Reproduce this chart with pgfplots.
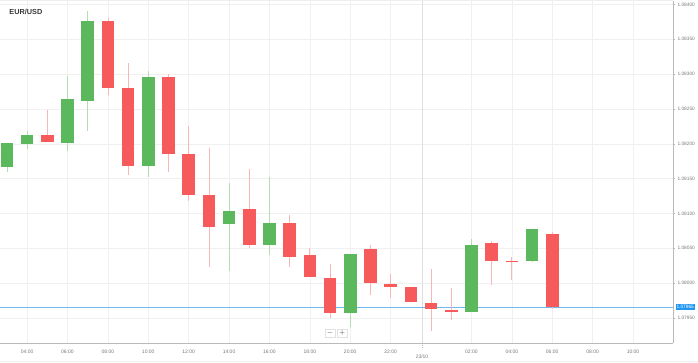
\documentclass[border=0pt]{standalone}
\usepackage{fontspec}
\setmainfont{Liberation Sans}
\usepackage{pgfplots}
\usepackage{pgfplotstable}
\pgfplotsset{compat=1.18}
\definecolor{upfill}{RGB}{92,184,92}
\definecolor{upwick}{RGB}{178,222,178}
\definecolor{dnfill}{RGB}{246,90,90}
\definecolor{dnwick}{RGB}{250,182,182}
\definecolor{gridc}{RGB}{240,240,240}
\definecolor{sepc}{RGB}{222,222,222}
\definecolor{axisc}{RGB}{185,185,185}
\definecolor{labc}{RGB}{120,120,120}
\definecolor{pricec}{RGB}{110,185,240}
\definecolor{priceb}{RGB}{33,150,243}
% hour, low, body bottom, body top, high  (rising candles)
\pgfplotstableread{
x  low     bot     top     high
3  1.08160 1.08166 1.08201 1.08201
4  1.08193 1.08200 1.08213 1.08219
6  1.08190 1.08201 1.08264 1.08298
7  1.08218 1.08262 1.08376 1.08390
10 1.08152 1.08168 1.08296 1.08304
14 1.08018 1.08085 1.08104 1.08143
16 1.08041 1.08054 1.08086 1.08153
20 1.07937 1.07957 1.08042 1.08042
26 1.07959 1.07959 1.08055 1.08063
29 1.08030 1.08032 1.08077 1.08077
}\upc
% falling candles
\pgfplotstableread{
x  low     bot     top     high
5  1.08203 1.08203 1.08212 1.08248
8  1.08270 1.08280 1.08376 1.08380
9  1.08155 1.08168 1.08280 1.08316
11 1.08159 1.08185 1.08296 1.08300
12 1.08118 1.08127 1.08185 1.08226
13 1.08023 1.08081 1.08126 1.08194
15 1.08050 1.08055 1.08106 1.08164
17 1.08023 1.08038 1.08086 1.08098
18 1.08009 1.08009 1.08040 1.08050
19 1.07950 1.07957 1.08007 1.08028
21 1.07983 1.08000 1.08049 1.08055
22 1.07978 1.07994 1.07999 1.08013
23 1.07973 1.07973 1.07994 1.07994
24 1.07931 1.07963 1.07972 1.08020
25 1.07947 1.07959 1.07962 1.07993
27 1.07997 1.08032 1.08057 1.08061
28 1.08005 1.08030 1.08032 1.08038
30 1.07963 1.07965 1.08071 1.08073
}\dnc
\begin{document}
\begin{tikzpicture}
\begin{axis}[
  at={(0,0)}, anchor=south west,
  scale only axis, width=673pt, height=342pt,
  xmin=2.66, xmax=35.98, ymin=1.07914, ymax=1.08405,
  axis x line*=bottom, axis y line*=right,
  axis line style={draw=axisc, line width=0.8pt},
  xtick={4,6,8,10,12,14,16,18,20,22,26,28,30,32,34},
  xticklabels={04:00,06:00,08:00,10:00,12:00,14:00,16:00,18:00,20:00,22:00,02:00,04:00,06:00,08:00,10:00},
  ytick={1.0795,1.08,1.0805,1.081,1.0815,1.082,1.0825,1.083,1.0835,1.084},
  yticklabels={1.07950,1.08000,1.08050,1.08100,1.08150,1.08200,1.08250,1.08300,1.08350,1.08400},
  scaled y ticks=false,
  xtick style={draw=none},
  ytick style={draw=axisc, line width=0.5pt},
  tick align=outside, major tick length=2pt,
  grid=major, grid style={draw=gridc, line width=0.5pt},
  xticklabel style={font=\fontsize{5}{6}\selectfont, text=labc, yshift=-1.5pt},
  yticklabel style={font=\fontsize{4.8}{6}\selectfont, text=labc, anchor=west, xshift=-1pt},
  clip=true,
]
% day separator (vertical) and current price (horizontal), drawn as error bars
\addplot[draw=none, mark=none, forget plot, error bars/.cd, y dir=plus, y explicit, error mark=none,
  error bar style={draw=sepc, line width=0.5pt}]
  coordinates {(23.55,1.07914) +- (0,0.00491)};
\addplot[draw=none, mark=none, forget plot, error bars/.cd, x dir=plus, x explicit, error mark=none,
  error bar style={draw=pricec, line width=0.8pt}]
  coordinates {(2.66,1.07965) +- (33.32,0)};
% wicks
\addplot[draw=none, mark=none, forget plot, error bars/.cd, y dir=plus, y explicit, error mark=none,
  error bar style={draw=upwick, line width=0.7pt}]
  table[x=x, y=low, y error plus expr=\thisrow{high}-\thisrow{low}] {\upc};
\addplot[draw=none, mark=none, forget plot, error bars/.cd, y dir=plus, y explicit, error mark=none,
  error bar style={draw=dnwick, line width=0.7pt}]
  table[x=x, y=low, y error plus expr=\thisrow{high}-\thisrow{low}] {\dnc};
% bodies
\addplot[draw=none, mark=none, forget plot, error bars/.cd, y dir=plus, y explicit, error mark=none,
  error bar style={draw=upfill, line width=12.6pt, line cap=butt}]
  table[x=x, y=bot, y error plus expr=\thisrow{top}-\thisrow{bot}] {\upc};
\addplot[draw=none, mark=none, forget plot, error bars/.cd, y dir=plus, y explicit, error mark=none,
  error bar style={draw=dnfill, line width=12.6pt, line cap=butt}]
  table[x=x, y=bot, y error plus expr=\thisrow{top}-\thisrow{bot}] {\dnc};
\node[anchor=west, inner sep=0pt, font=\bfseries\fontsize{7.3}{8}\selectfont, text={rgb,255:red,55;green,55;blue,55}] at (rel axis cs:0.0138,0.969) {EUR/USD};
\node[draw={rgb,255:red,225;green,225;blue,225}, fill=white, inner sep=0pt, minimum width=10pt, minimum height=8pt, font=\fontsize{7}{7}\selectfont, text={rgb,255:red,60;green,60;blue,60}] at (axis cs:19.0,1.079284) {$-$};
\node[draw={rgb,255:red,225;green,225;blue,225}, fill=white, inner sep=0pt, minimum width=10pt, minimum height=8pt, font=\fontsize{7}{7}\selectfont, text={rgb,255:red,60;green,60;blue,60}] at (axis cs:19.6,1.079284) {$+$};
\end{axis}
\draw[draw=axisc, line width=0.5pt, dash pattern=on 1pt off 1pt] (422pt,0) -- (422pt,-5pt);
\node[font=\fontsize{5}{6}\selectfont, text=labc] at (422pt,-13.5pt) {23/10};
\node[anchor=west, fill=priceb, text=white, inner sep=0.8pt, minimum height=5.4pt, font=\fontsize{4.8}{5}\selectfont] at (675.5pt,36pt) {1.07965};
\draw[draw={rgb,255:red,238;green,238;blue,238}, line width=1pt] (0,-18.5pt) -- (698pt,-18.5pt);
\draw[draw={rgb,255:red,238;green,238;blue,238}, line width=0.8pt] (0,342.6pt) -- (673pt,342.6pt);
\pgfresetboundingbox
\useasboundingbox (0,-20pt) rectangle (698pt,343pt);
\end{tikzpicture}
\end{document}
